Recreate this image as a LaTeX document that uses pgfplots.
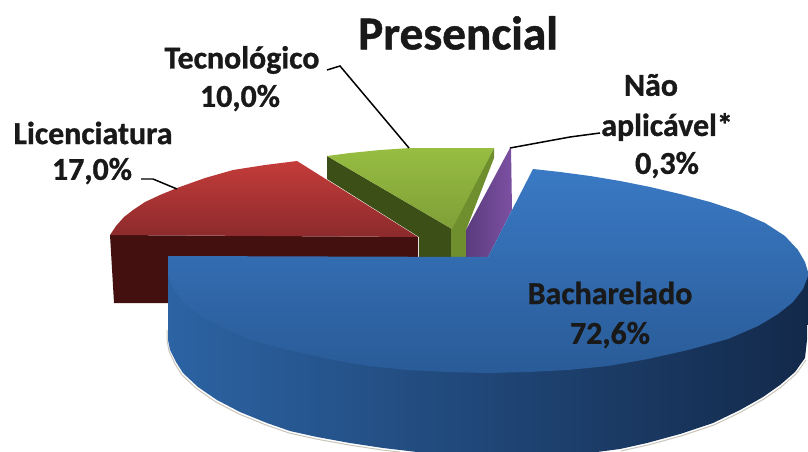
\documentclass[border=0pt]{standalone}
\usepackage{fontspec}
\setmainfont{Carlito}[BoldFeatures={FakeBold=1}]
\usepackage{pgfplots}
\pgfplotsset{compat=1.18}

\definecolor{blueTopA}{HTML}{3A79C4}
\definecolor{blueTopB}{HTML}{295B97}
\definecolor{blueSideA}{HTML}{2C63A3}
\definecolor{blueSideB}{HTML}{1C3B63}
\definecolor{blueSideC}{HTML}{13294A}
\definecolor{redTopA}{HTML}{C43C3A}
\definecolor{redTopB}{HTML}{8C2A2B}
\definecolor{redSide}{HTML}{43100F}
\definecolor{greenTopA}{HTML}{97BD41}
\definecolor{greenTopB}{HTML}{7F9F38}
\definecolor{greenDark}{HTML}{3C4F17}
\definecolor{greenSide}{HTML}{6F8E2E}
\definecolor{purpleA}{HTML}{5B3C7D}
\definecolor{purpleB}{HTML}{7C50A2}
\definecolor{shadowGray}{HTML}{C9C5BC}

\begin{document}
\begin{tikzpicture}
\path[use as bounding box] (0,0) rectangle (808bp,452bp);
\begin{axis}[
    width=808bp, height=452bp, scale only axis,
    xmin=0, xmax=808, ymin=0, ymax=452,
    y dir=reverse,
    hide axis,
    no markers,
    every axis plot/.append style={draw=none},
]
% green, dark inner wall
\addplot[fill=greenDark] coordinates {(327,156) (452,229) (451,257) (419,257) (419,237) (327,179)} -- cycle;
% green, light wall
\addplot[fill=greenSide] coordinates {(451,229) (494,148) (494,158) (466,230) (466,257) (451,257)} -- cycle;
% purple wall
\addplot[left color=purpleA, right color=purpleB] coordinates {(466,230) (510,148) (511,148) (512,210) (488,257) (466,257)} -- cycle;
% green top
\addplot[top color=greenTopA, bottom color=greenTopB] coordinates {(327,156) (350,153) (380,150) (410,148) (450,148) (494,148) (452,229)} -- cycle;
% red wall
\addplot[fill=redSide] coordinates {(110,235) (418,237) (418,257) (168,257) (168,303) (114,303)} -- cycle;
% red top
\addplot[top color=redTopA, bottom color=redTopB] coordinates {(110,235) (116,226) (124,217) (133,210) (145,202) (160,195) (177,188) (205,178) (233,170) (265,165) (297,161) (418,237)} -- cycle;
% shadow under the blue slice
\addplot[draw=shadowGray, line width=1pt] coordinates {(167,330) (167,340) (169,351) (175,364) (182,375) (197,389) (216,402) (239,414) (266,425) (289,433) (316,439) (349,445) (382,450) (400,452)};
\addplot[draw=shadowGray, line width=1pt] coordinates {(806,360) (796,374) (781,387) (764,399) (741,412) (714,425) (681,436) (648,445) (621,451)};
% blue wall
\addplot[left color=blueSideA, middle color=blueSideB, right color=blueSideC] coordinates {(808,276) (807,340) (805,358) (795,372) (780,385) (763,397) (740,410) (713,423) (680,434) (647,443) (620,449) (597,452) (417,452) (383,448) (350,443) (317,437) (290,431) (267,423) (240,412) (217,400) (198,387) (183,373) (176,362) (170,350) (168,340) (168,276)} -- cycle;
% blue top
\addplot[top color=blueTopA, bottom color=blueTopB] coordinates {(168,256) (488,257) (533,169) (560,172) (590,176) (620,181) (650,187) (680,194) (710,202) (740,212) (765,223) (785,236) (798,250) (805,262) (808,272) (808,276) (803,289) (793,302) (778,314) (758,326) (728,339) (688,350) (648,359) (608,366) (568,370) (528,372) (488,373) (448,372) (408,370) (368,366) (328,359) (288,350) (248,339) (218,326) (198,314) (183,302) (173,289) (168,276)} -- cycle;
% leader lines
\addplot[draw=black, line width=1.5pt] coordinates {(327,70) (340,66) (409,148)};
\addplot[draw=black, line width=1.5pt] coordinates {(141,179) (153,179) (177,189)};
\addplot[draw=black, line width=1.5pt] coordinates {(510,148) (570,137) (600,133)};

\node[font=\fontsize{47.5}{47.5}\selectfont\bfseries, text=black!90] at (axis cs:458,33) {Presencial};
\begin{scope}[every node/.style={font=\fontsize{32}{32}\selectfont\bfseries, text=black!90}]
\node at (axis cs:242,60) {Tecnológico};
\node at (axis cs:240,98) {10,0\%};
\node at (axis cs:93,133) {Licenciatura};
\node at (axis cs:92,171) {17,0\%};
\node at (axis cs:651,85) {Não};
\node at (axis cs:667,127) {aplicável*};
\node at (axis cs:667,165) {0,3\%};
\node at (axis cs:610,293) {Bacharelado};
\node at (axis cs:610,335) {72,6\%};
\end{scope}
\end{axis}
\end{tikzpicture}
\end{document}
